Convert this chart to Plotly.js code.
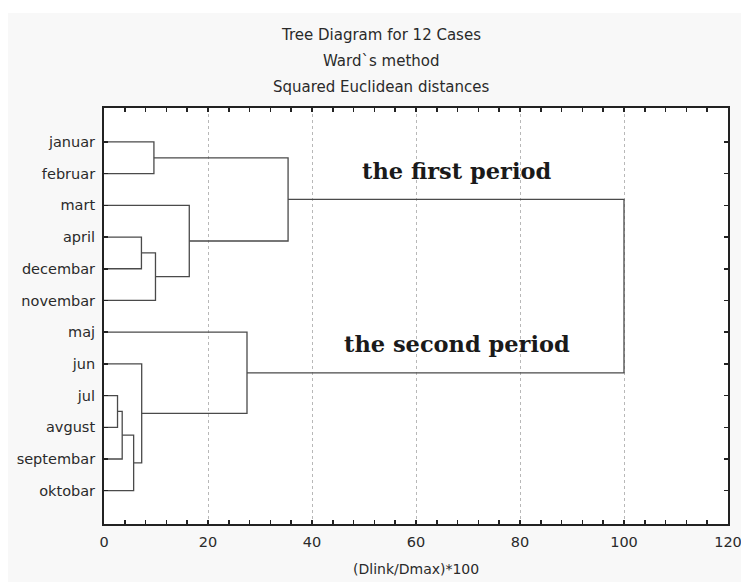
<!DOCTYPE html>
<html>
<head>
<meta charset="utf-8">
<script src="https://cdn.plot.ly/plotly-3.0.1.min.js"></script>
<style>
  html, body { margin: 0; padding: 0; background: #ffffff; }
  #wrap { position: absolute; left: 8px; top: 13px; width: 733px; height: 569px; background: #f8f8f8; }
  #chart { position: absolute; left: 0px; top: 0px; width: 741px; height: 582px; }
</style>
</head>
<body>
<div id="wrap"></div>
<div id="chart"></div>
<script>
// Leaves (top to bottom)
const months = ["januar", "februar", "mart", "april", "decembar", "novembar",
                "maj", "jun", "jul", "avgust", "septembar", "oktobar"];
// Linkage: nodes 0..11 are leaves, merge k creates node 12+k
const mergeA  = [8, 12, 13, 3, 7, 0, 15, 2, 6, 17, 21];
const mergeB  = [9, 10, 11, 4, 14, 1, 5, 18, 16, 19, 20];
const heights = [2.6, 3.5, 5.7, 7.2, 7.25, 9.6, 9.9, 16.4, 27.5, 35.4, 100];

const xTicks = [0, 20, 40, 60, 80, 100, 120];
const titleLines = ["Tree Diagram for 12 Cases", "Ward`s method", "Squared Euclidean distances"];
const xTitle = "(Dlink/Dmax)*100";
const periodLabels = ["the first period", "the second period"];

// node positions
const nodeX = months.map(() => 0);
const nodeY = months.map((m, i) => i + 1);
const xs = [], ys = [];
for (let k = 0; k < heights.length; k++) {
  const a = mergeA[k], b = mergeB[k], h = heights[k];
  xs.push(nodeX[a], h, h, nodeX[b], null);
  ys.push(nodeY[a], nodeY[a], nodeY[b], nodeY[b], null);
  nodeX.push(h);
  nodeY.push((nodeY[a] + nodeY[b]) / 2);
}

const trace = {
  x: xs, y: ys, type: 'scatter', mode: 'lines',
  line: { color: '#4a4a4a', width: 1.3 },
  hoverinfo: 'skip', showlegend: false
};
// invisible trace to activate the top axis (ticks only)
const topTrace = {
  x: [0, 120], y: [1, 1], xaxis: 'x2', yaxis: 'y', type: 'scatter', mode: 'none',
  hoverinfo: 'skip', showlegend: false
};

const L = 104, R = 13, T = 108, B = 58;
const plotH = 582 - T - B, plotW = 741 - L - R;
const py = (pix) => (582 - B - pix) / plotH;
const px = (pix) => (pix - L) / plotW;
const SANS = 'DejaVu Sans, Verdana, sans-serif';
const SERIF = 'DejaVu Serif, Georgia, serif';

const annotations = [];
const titleY = [35, 61, 87];
titleLines.forEach((t, i) => annotations.push({
  text: t, xref: 'paper', yref: 'paper', x: px(381), y: py(titleY[i]),
  xanchor: 'center', yanchor: 'middle', showarrow: false,
  font: { family: SANS, size: 15, color: '#2a2a2a' }
}));
annotations.push({
  text: xTitle, xref: 'paper', yref: 'paper', x: px(416), y: py(569),
  xanchor: 'center', yanchor: 'middle', showarrow: false,
  font: { family: SANS, size: 14, color: '#2a2a2a' }
});
annotations.push({
  text: '<b>' + periodLabels[0] + '</b>', x: 67.8, y: 1.92, xref: 'x', yref: 'y',
  xanchor: 'center', yanchor: 'middle', showarrow: false,
  font: { family: SERIF, size: 22.5, color: '#1a1a1a' }
});
annotations.push({
  text: '<b>' + periodLabels[1] + '</b>', x: 67.8, y: 7.38, xref: 'x', yref: 'y',
  xanchor: 'center', yanchor: 'middle', showarrow: false,
  font: { family: SERIF, size: 22.5, color: '#1a1a1a' }
});

const layout = {
  width: 741, height: 582,
  margin: { l: L, r: R, t: T, b: B, pad: 0 },
  paper_bgcolor: 'rgba(0,0,0,0)',
  plot_bgcolor: '#ffffff',
  font: { family: SANS, size: 14, color: '#2a2a2a' },
  xaxis: {
    range: [0, 120], tickvals: xTicks, ticktext: xTicks.map(String),
    showline: true, linecolor: '#222', linewidth: 2, mirror: true,
    ticks: 'inside', ticklen: 4, tickcolor: '#222', tickwidth: 1.5,
    minor: { dtick: 4, tick0: 0, ticks: 'inside', ticklen: 4, tickcolor: '#222', tickwidth: 1.5, showgrid: false },
    showgrid: true, gridcolor: '#b8b8b8', griddash: 'dot', gridwidth: 1,
    zeroline: false, ticklabelstandoff: 4, ticklabeloverflow: 'allow',
    tickfont: { size: 14.5, color: '#2a2a2a' }
  },
  xaxis2: {
    overlaying: 'x', side: 'top', anchor: 'y', matches: 'x',
    range: [0, 120], tickvals: xTicks, showticklabels: false,
    ticks: 'inside', ticklen: 4, tickcolor: '#222', tickwidth: 1.5,
    minor: { dtick: 4, tick0: 0, ticks: 'inside', ticklen: 4, tickcolor: '#222', tickwidth: 1.5, showgrid: false },
    showgrid: false, zeroline: false, showline: false
  },
  yaxis: {
    range: [13.05, -0.07], tickvals: months.map((m, i) => i + 1), ticktext: months,
    showline: true, linecolor: '#222', linewidth: 2, mirror: 'ticks',
    ticks: 'inside', ticklen: 4, tickcolor: '#222', tickwidth: 1.5,
    showgrid: false, zeroline: false, ticklabelstandoff: 4,
    tickfont: { size: 14.5, color: '#2a2a2a' }
  },
  annotations: annotations
};

Plotly.newPlot('chart', [trace, topTrace], layout, { displayModeBar: false, staticPlot: true });
</script>
</body>
</html>
